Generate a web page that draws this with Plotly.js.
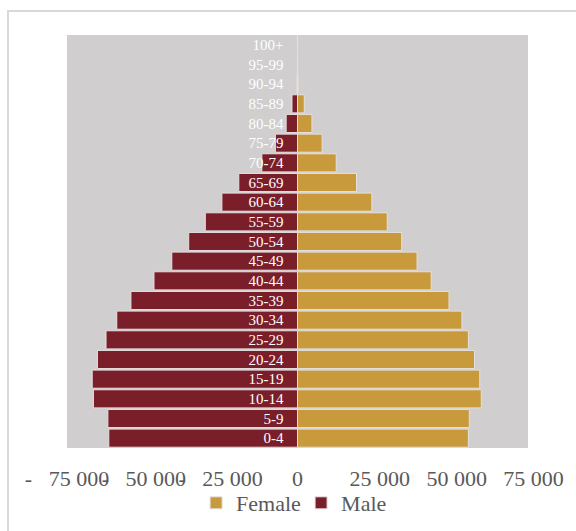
<!DOCTYPE html>
<html>
<head>
<meta charset="utf-8">
<script src="https://cdn.plot.ly/plotly-3.0.1.min.js"></script>
<style>
  html, body { margin: 0; padding: 0; background: #ffffff; }
  #wrap { position: relative; width: 576px; height: 531px; overflow: hidden; }
  #chart { position: absolute; left: 0; top: 0; width: 576px; height: 531px; }
  #frame { position: absolute; left: 7px; top: 10px; width: 700px; height: 700px;
           border-left: 2px solid #d9d9d9; border-top: 2px solid #d9d9d9; pointer-events: none; }
</style>
</head>
<body>
<div id="wrap">
  <div id="frame"></div>
  <div id="chart"></div>
</div>
<script>
// Age groups (bottom to top)
const ageGroups = ['0-4','5-9','10-14','15-19','20-24','25-29','30-34','35-39','40-44','45-49',
                   '50-54','55-59','60-64','65-69','70-74','75-79','80-84','85-89','90-94','95-99','100+'];
// Population by sex
const maleValues   = [61400, 61700, 66400, 66800, 65100, 62300, 58800, 54200, 46700, 40900,
                      35400, 30000, 24600, 19100, 11600, 7200, 3700, 1800, 150, 30, 5];
const femaleValues = [55600, 55900, 59800, 59300, 57600, 55600, 53500, 49300, 43500, 38900,
                      33900, 29200, 24200, 19200, 12600, 8000, 4700, 2200, 250, 50, 10];
// Axis ticks (Excel accounting-style labels)
const xTickValues = [-75000, -50000, -25000, 0, 25000, 50000, 75000];
const xTickLabels = ['-\u00a0\u00a0\u00a075 000', '-\u00a0\u00a0\u00a050 000', '-\u00a0\u00a0\u00a025 000', '0',
                     '\u00a0\u00a025 000', '\u00a0\u00a050 000', '\u00a0\u00a075 000'];

const serif = 'Liberation Serif';
const barLine = { color: '#e4e0e0', width: 1 };

const traces = [
  {
    type: 'bar', orientation: 'h', name: 'Female',
    y: ageGroups, x: femaleValues,
    marker: { color: '#c89a3b', line: barLine },
    hoverinfo: 'skip'
  },
  {
    type: 'bar', orientation: 'h', name: 'Male',
    y: ageGroups, x: maleValues.map(v => -v),
    marker: { color: '#7a1e2a', line: barLine },
    hoverinfo: 'skip'
  }
];

const layout = {
  width: 576, height: 531,
  margin: { l: 67, r: 47.5, t: 35, b: 83 },
  paper_bgcolor: 'rgba(0,0,0,0)',
  plot_bgcolor: '#d0cece',
  barmode: 'relative',
  bargap: 0.08,
  font: { family: serif },
  showlegend: true,
  legend: {
    orientation: 'h', x: 0.28, xanchor: 'left',
    yref: 'container', y: 0.0527, yanchor: 'middle',
    font: { family: serif, size: 22, color: '#595959' },
    itemwidth: 30, entrywidth: 60, entrywidthmode: 'pixels',
    bgcolor: 'rgba(0,0,0,0)'
  },
  xaxis: {
    range: [-75001, 75001],
    tickmode: 'array', tickvals: xTickValues, ticktext: xTickLabels,
    tickangle: 0, automargin: false,
    tickfont: { family: serif, size: 22, color: '#595959' },
    ticks: '', showgrid: false, showline: false,
    zeroline: true, zerolinecolor: '#e4e0e0', zerolinewidth: 1.5,
    ticklabelstandoff: 15, fixedrange: true
  },
  yaxis: {
    type: 'category', categoryorder: 'array', categoryarray: ageGroups,
    range: [-0.5, 20.5], automargin: false,
    anchor: 'free', position: 0.5, side: 'left',
    tickfont: { family: serif, size: 15, color: '#ffffff' },
    ticks: '', showgrid: false, showline: false, zeroline: false,
    ticklabelstandoff: 14, fixedrange: true
  }
};

Plotly.newPlot('chart', traces, layout, { displayModeBar: false, staticPlot: true });
</script>
</body>
</html>
